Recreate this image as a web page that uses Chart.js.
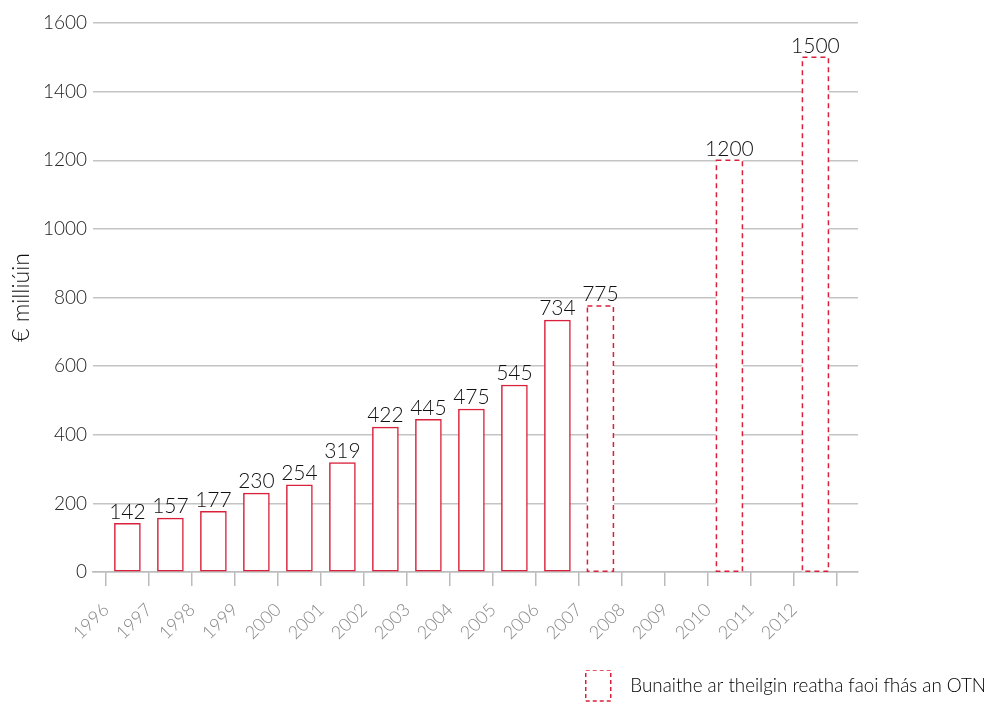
<!DOCTYPE html>
<html>
<head>
<meta charset="utf-8">
<script src="https://cdn.jsdelivr.net/npm/chart.js@4.4.0/dist/chart.umd.min.js"></script>
<style>
  html, body { margin: 0; padding: 0; background: #fff; }
  #wrap { width: 994px; height: 705px; position: relative; }
</style>
</head>
<body>
<div id="wrap"><canvas id="chart"></canvas></div>
<script>
// data
const years = ['1996', '1997', '1998', '1999', '2000', '2001', '2002', '2003', '2004', '2005', '2006', '2007', '2008', '2009', '2010', '2011', '2012'];
const actualValues = [142, 157, 177, 230, 254, 319, 422, 445, 475, 545, 734, null, null, null, null, null, null];
const projectedValues = [null, null, null, null, null, null, null, null, null, null, null, 775, null, null, 1200, null, 1500];
const yTicks = [0, 200, 400, 600, 800, 1000, 1200, 1400, 1600];
const yTitle = '€ milliúin';
const legendText = 'Bunaithe ar theilgin reatha faoi fhás an OTN';

const RED = '#d9203a';
const FONT = 'Lato, "Open Sans", sans-serif';

// each bar sits between its year tick and the next one
function toPoints(values) {
    const pts = [];
    values.forEach((v, i) => {
        if (v !== null) pts.push({ x: i + 0.5, y: v });
    });
    return pts;
}

// dashed outline for projected bars + value labels
const barExtras = {
    id: 'barExtras',
    afterLayout(chart) {
        // legend sits a bit lower than the default bottom gap allows
        chart.legend.top += 6;
        chart.legend.bottom += 6;
    },
    afterDatasetsDraw(chart) {
        const ctx = chart.ctx;
        ctx.save();
        const proj = chart.getDatasetMeta(1);
        ctx.strokeStyle = RED;
        ctx.lineWidth = 1.5;
        ctx.setLineDash([5, 4]);
        proj.data.forEach(bar => {
            const w = bar.width;
            ctx.strokeRect(bar.x - w / 2, bar.y, w, bar.base - bar.y);
        });
        ctx.setLineDash([]);

        ctx.fillStyle = '#111';
        ctx.font = '300 21px ' + FONT;
        ctx.textAlign = 'center';
        ctx.textBaseline = 'bottom';
        [0, 1].forEach(di => {
            const meta = chart.getDatasetMeta(di);
            const ds = chart.data.datasets[di];
            meta.data.forEach((bar, j) => {
                ctx.fillText(String(ds.data[j].y), bar.x, bar.y - 1);
            });
        });
        ctx.restore();
    }
};

const ctx = document.getElementById('chart').getContext('2d');
new Chart(ctx, {
    type: 'bar',
    data: {
        datasets: [
            {
                label: 'actual',
                data: toPoints(actualValues),
                backgroundColor: '#fff',
                borderColor: RED,
                borderWidth: 1.5,
                borderSkipped: false,
                barThickness: 26,
                grouped: false
            },
            {
                label: legendText,
                data: toPoints(projectedValues),
                backgroundColor: '#fff',
                borderWidth: 0,
                barThickness: 26,
                grouped: false
            }
        ]
    },
    options: {
        responsive: true,
        maintainAspectRatio: false,
        animation: false,
        layout: { padding: { left: 5, right: 8, top: 23, bottom: 0 } },
        plugins: {
            tooltip: { enabled: false },
            legend: {
                position: 'bottom',
                align: 'end',
                onClick: null,
                labels: {
                    boxWidth: 25,
                    boxHeight: 31,
                    padding: 0,
                    color: '#666',
                    font: { family: FONT, size: 18.8, weight: '300' },
                    generateLabels: () => [{
                        text: '  ' + legendText,
                        fillStyle: '#fff',
                        strokeStyle: RED,
                        lineWidth: 1.5,
                        lineDash: [4, 3],
                        hidden: false,
                        datasetIndex: 1
                    }]
                }
            }
        },
        scales: {
            x: {
                type: 'linear',
                position: 'bottom',
                offset: false,
                min: -0.3,
                max: 17.49,
                afterBuildTicks: (scale) => {
                    scale.ticks = years.concat(['']).map((_, i) => ({ value: i }));
                },
                afterFit: (scale) => { scale.height = 92; },
                grid: {
                    drawOnChartArea: false,
                    offset: false,
                    color: '#bbb',
                    lineWidth: 1.5,
                    tickLength: 14
                },
                border: { color: '#bbb', width: 1.5 },
                ticks: {
                    autoSkip: false,
                    minRotation: 45,
                    maxRotation: 45,
                    color: '#888',
                    padding: 13,
                    font: { family: FONT, size: 18, weight: '300' },
                    callback: (value) => years[value] || ''
                }
            },
            y: {
                min: 0,
                max: 1600,
                afterBuildTicks: (scale) => {
                    scale.ticks = yTicks.map(v => ({ value: v }));
                },
                afterFit: (scale) => { scale.width = 88; },
                grid: { color: '#c4c4c4', lineWidth: 1.5, drawTicks: false },
                border: { display: false },
                ticks: {
                    color: '#222',
                    padding: 6,
                    font: { family: FONT, size: 19, weight: '300' },
                    callback: (value) => String(value)
                },
                title: {
                    display: true,
                    text: yTitle,
                    color: '#111',
                    padding: { top: 3, bottom: 0 },
                    font: { family: FONT, size: 23, weight: '300' }
                }
            },
            yRight: {
                position: 'right',
                min: 0,
                max: 1600,
                grid: { display: false },
                border: { display: false },
                ticks: { display: false },
                afterFit: (scale) => { scale.width = 128; }
            }
        }
    },
    plugins: [barExtras]
});
</script>
</body>
</html>
